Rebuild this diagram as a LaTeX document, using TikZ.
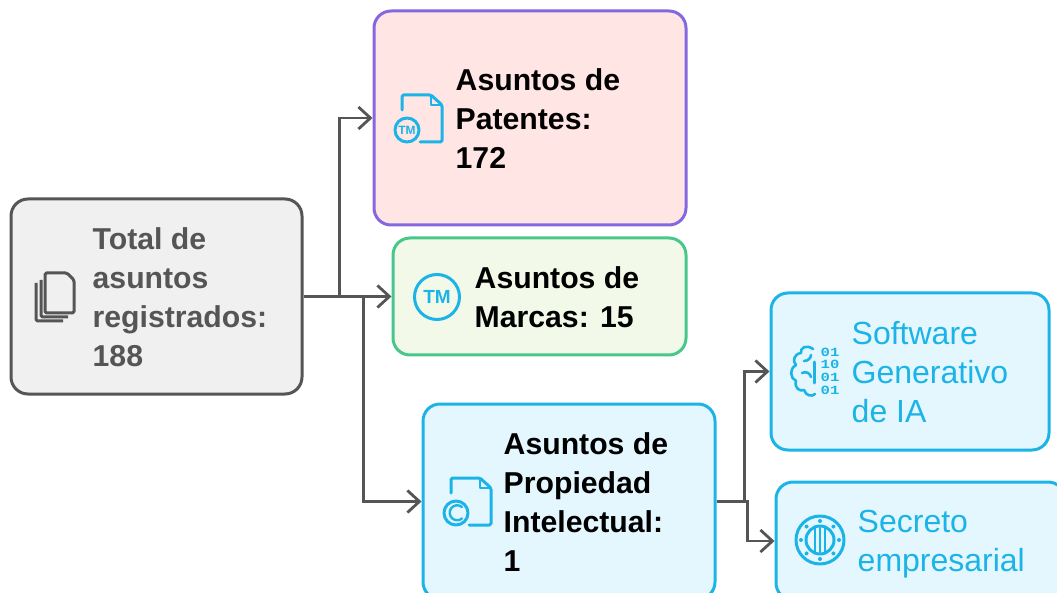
\documentclass[tikz,border=0pt]{standalone}
\usepackage{fontspec}
\setmainfont{Liberation Sans}
\setmonofont[FakeStretch=1.25]{Liberation Mono}
\usetikzlibrary{arrows.meta,positioning}
\definecolor{greyline}{HTML}{555555}
\definecolor{greyfill}{HTML}{F0F0F0}
\definecolor{purpleline}{HTML}{8468E0}
\definecolor{redfill}{HTML}{FFE6E4}
\definecolor{greenline}{HTML}{48C78A}
\definecolor{greenfill}{HTML}{F3F9E9}
\definecolor{blueline}{HTML}{1CB4E6}
\definecolor{bluefill}{HTML}{E4F7FF}
\tikzset{
  post/.style      = {-{Straight Barb[length=12pt,width=22pt,line width=2.8pt]}, draw=greyline, line width=2.8pt},
  topic/.style     = {draw, rectangle, line width=3pt, rounded corners=17pt},
  caption/.style   = {anchor=west, inner sep=0pt, yshift=-1pt, align=left, font=\fontsize{32}{39}\selectfont},
  strong/.style    = {caption, font=\fontsize{30.2}{39}\selectfont\bfseries},
  icon/.style      = {draw=blueline, line width=3pt, line cap=round, line join=round},
  stack/.style     = {draw=greyline, line width=3pt, line join=round, rounded corners=1.5pt},
  glyph/.style     = {text=blueline, inner sep=0pt, font=\bfseries},
  docpage/.pic     = {\draw[icon, rounded corners=1.5pt] (0,15) -- (0,0) -- (29,0) -- (40,10) -- (40,47) -- (18,47);
                      \draw[icon, line width=2pt] (29,1) -- (29,10) -- (39,10);
                      \draw[icon, fill=none] (5,35) circle (12);}
}
\begin{document}
\begin{tikzpicture}[x=1pt,y=-1pt]
      \useasboundingbox (0,0) rectangle (1057,593);
      \clip (0,0) rectangle (1057,593);
      \node[topic, draw=greyline, fill=greyfill, minimum width=291pt, minimum height=195pt] (total) at (156.5,296.5) {};
      \node[topic, draw=purpleline, fill=redfill, minimum width=312pt, minimum height=214pt] (patentes) at (530,118) {};
      \node[topic, draw=greenline, fill=greenfill, minimum width=293pt, minimum height=117pt] (marcas) at (539.5,296.5) {};
      \node[topic, draw=blueline, fill=bluefill, minimum width=292pt, minimum height=195pt] (propiedad) at (569,501.5) {};
      \node[topic, draw=blueline, fill=bluefill, minimum width=278pt, minimum height=157pt] (software) at (910,371.5) {};
      \node[topic, draw=blueline, fill=bluefill, minimum width=289pt, minimum height=118pt] (secreto) at (920.5,541) {};
      %Labels
      \node[strong, text=greyline, right=83pt of total.west] (totaltext) {Total de\\asuntos\\registrados:\\188};
      \node[strong, right=83pt of patentes.west] (patentestext) {Asuntos de\\Patentes:\\172};
      \node[strong, right=83pt of marcas.west] (marcastext) {Asuntos de\\Marcas: 15};
      \node[strong, right=82pt of propiedad.west] (propiedadtext) {Asuntos de\\Propiedad\\Intelectual:\\1};
      \node[caption, text=blueline, right=82pt of software.west] (softwaretext) {Software\\Generativo\\de IA};
      \node[caption, text=blueline, right=83pt of secreto.west, yshift=-2pt] (secretotext) {Secreto\\empresarial};
      %Connectors
      \draw[post] (total.east) -- ++(36,0) |- (patentes.west);
      \draw[post] (total.east) -- (marcas.west);
      \draw[post] (total.east) -- ++(60,0) |- (propiedad.west);
      \draw[post] (propiedad.east) -- ++(28,0) |- (software.west);
      \draw[post] (propiedad.east) -- ++(31,0) |- (secreto.west);
      %Icons
      \draw[stack] (45,273) -- (67,273) -- (74,280) -- (74,313) -- (45,313) -- cycle;
      \draw[stack] (41,280) -- (41,317) -- (68,317);
      \draw[stack] (36,283) -- (36,321) -- (63,321);
      \pic at (402,95) {docpage};
      \node[glyph, font=\fontsize{12}{12}\selectfont\bfseries] (tmdoc) at (407,130) {TM};
      \draw[icon] (437,297) circle (22.5);
      \node[glyph, font=\fontsize{19}{19}\selectfont\bfseries] (tmbrand) at (437,297) {TM};
      \pic at (451,478) {docpage};
      \draw[icon, line width=2.4pt] (462,507) arc (-50:-310:7.5);
      %Brain
      \draw[icon] (814,362) -- (814,383);
      \draw[icon, line width=2.6pt] (813,349) .. controls (806,344) and (800,348) .. (801,353)
        .. controls (794,354) and (792,361) .. (796,365)
        .. controls (789,369) and (790,378) .. (796,381)
        .. controls (794,388) and (800,392) .. (804,390)
        .. controls (806,396) and (812,397) .. (815,394);
      \draw[icon, line width=2.6pt] (804,361) .. controls (808,361) and (811,358) .. (811,355);
      \draw[icon, line width=2.6pt] (802,373) .. controls (806,371) and (810,373) .. (811,377);
      \node[glyph, align=center, font=\fontsize{12.5}{12.7}\selectfont\ttfamily\bfseries] (bits) at (830,371) {01\\10\\01\\01};
      %Secret
      \draw[icon] (820,540) circle (24);
      \draw[icon] (820,540) circle (14);
      \foreach \dotangle in {0,45,...,315} {
        \fill[blueline] (820,540) ++(\dotangle:19) circle (2);
      }
      \foreach \barx in {-5,0,5} {
        \draw[icon, line width=2.4pt] (820+\barx,528) -- (820+\barx,552);
      }
\end{tikzpicture}
\end{document}
